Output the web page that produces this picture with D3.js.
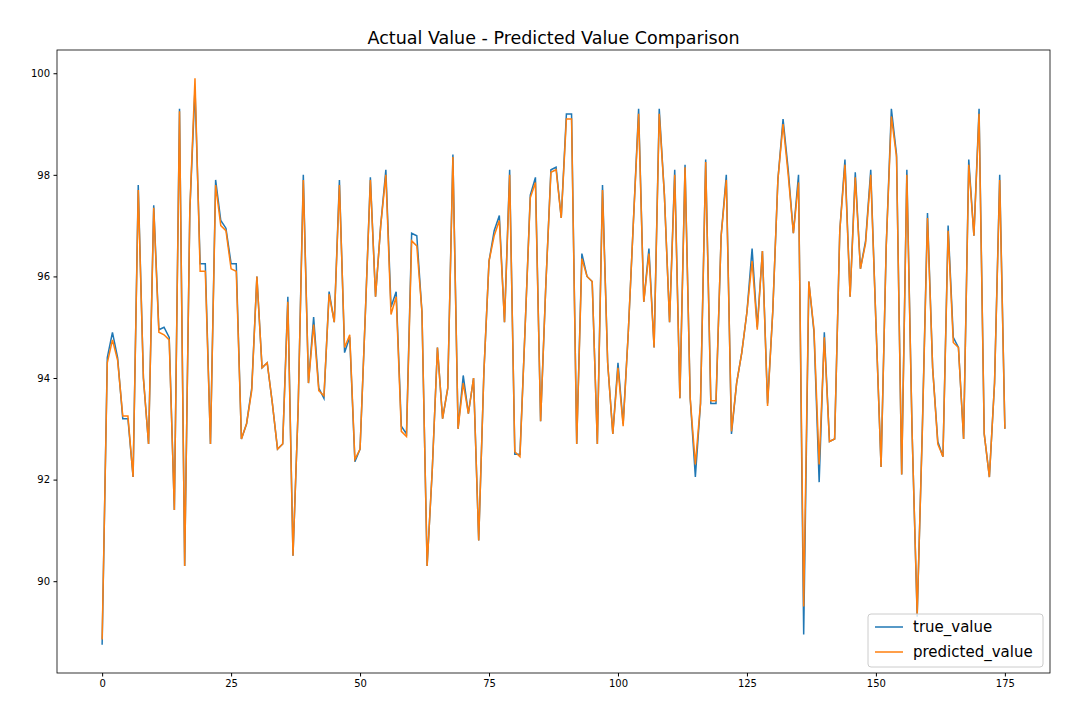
<!DOCTYPE html>
<html><head><meta charset="utf-8">
<script src="https://cdn.jsdelivr.net/npm/d3@7"></script>
<style>body{margin:0;background:#fff;font-family:"DejaVu Sans",sans-serif;}</style>
</head><body><svg id="c" width="1080" height="720"></svg>
<script>
const trueValue=[88.75,94.4,94.9,94.4,93.2,93.2,92.05,97.8,94.0,92.7,97.4,94.95,95.0,94.8,91.4,99.3,90.3,97.3,99.7,96.25,96.25,92.7,97.9,97.1,96.95,96.25,96.25,92.8,93.1,93.8,96.0,94.2,94.3,93.5,92.6,92.7,95.6,90.5,93.4,98.0,93.9,95.2,93.8,93.6,95.7,95.1,97.9,94.5,94.8,92.35,92.6,95.2,97.95,95.6,97.0,98.1,95.4,95.7,93.05,92.9,96.85,96.8,95.3,90.3,92.2,94.6,93.2,93.8,98.4,93.0,94.05,93.3,94.0,90.8,94.1,96.3,96.9,97.2,95.1,98.1,92.5,92.5,95.0,97.6,97.95,93.15,95.8,98.1,98.15,97.15,99.2,99.2,92.7,96.45,96.0,95.9,92.7,97.8,94.3,92.9,94.3,93.1,94.9,97.1,99.3,95.5,96.55,94.6,99.3,97.6,95.1,98.1,93.6,98.2,93.6,92.05,93.5,98.3,93.5,93.5,96.8,98.0,92.9,93.9,94.5,95.3,96.55,95.0,96.5,93.5,95.3,97.9,99.1,98.1,96.85,98.0,88.95,95.9,94.9,91.95,94.9,92.75,92.8,96.9,98.3,95.6,98.05,96.15,96.7,98.1,95.1,92.25,96.6,99.3,98.4,92.1,98.1,93.0,89.3,93.0,97.25,94.2,92.75,92.45,97.0,94.8,94.6,92.8,98.3,96.8,99.3,92.9,92.05,93.9,98.0,93.0];
const predictedValue=[88.85,94.3,94.75,94.35,93.25,93.25,92.05,97.7,94.0,92.7,97.35,94.9,94.85,94.75,91.4,99.25,90.3,97.3,99.9,96.1,96.1,92.7,97.8,97.0,96.9,96.15,96.1,92.8,93.1,93.75,96.0,94.2,94.3,93.5,92.6,92.7,95.5,90.5,93.4,97.9,93.9,95.05,93.75,93.65,95.65,95.1,97.8,94.6,94.85,92.4,92.6,95.2,97.9,95.6,97.0,98.0,95.25,95.6,92.95,92.85,96.7,96.6,95.3,90.3,92.2,94.6,93.2,93.8,98.35,93.0,93.9,93.3,94.0,90.8,94.1,96.3,96.8,97.1,95.1,98.0,92.55,92.45,95.0,97.55,97.85,93.15,95.8,98.05,98.1,97.15,99.1,99.1,92.7,96.35,96.0,95.9,92.7,97.7,94.3,92.9,94.2,93.05,94.9,97.1,99.2,95.5,96.45,94.6,99.2,97.6,95.1,98.0,93.6,98.15,93.6,92.3,93.5,98.25,93.55,93.55,96.8,97.9,92.95,93.9,94.5,95.3,96.3,94.95,96.5,93.45,95.3,97.9,99.0,98.0,96.85,97.85,89.5,95.9,94.95,92.3,94.8,92.75,92.8,96.9,98.2,95.6,97.95,96.15,96.65,98.0,95.1,92.25,96.6,99.15,98.35,92.1,98.0,93.0,89.35,92.95,97.15,94.2,92.7,92.45,96.9,94.7,94.6,92.8,98.2,96.8,99.2,92.9,92.05,93.9,97.9,93.0];
const xTicks=[0,25,50,75,100,125,150,175];
const yTicks=[90,92,94,96,98,100];

const svg=d3.select("#c");
const L=57,R=1050,T=50,B=673;
const n=trueValue.length;
const x=d3.scaleLinear().domain([-0.05*(n-1),(n-1)*1.05]).range([L,R]);
const all=trueValue.concat(predictedValue);
const mn=d3.min(all),mx=d3.max(all),pad=(mx-mn)*0.05;
const y=d3.scaleLinear().domain([mn-pad,mx+pad]).range([B,T]);

const line=d3.line().x((d,i)=>x(i)).y(d=>y(d));
svg.append("path").datum(trueValue).attr("d",line).attr("fill","none").attr("stroke","#1f77b4").attr("stroke-width",1.5);
svg.append("path").datum(predictedValue).attr("d",line).attr("fill","none").attr("stroke","#ff7f0e").attr("stroke-width",1.5);

const xa=svg.append("g").attr("transform",`translate(0,${B})`).call(d3.axisBottom(x).tickValues(xTicks).tickSize(3.5).tickPadding(3.5));
const ya=svg.append("g").attr("transform",`translate(${L},0)`).call(d3.axisLeft(y).tickValues(yTicks).tickSize(3.5).tickPadding(3.5));
[xa,ya].forEach(a=>{a.select(".domain").remove();a.selectAll("text").attr("font-family","DejaVu Sans").attr("font-size",10).attr("fill","#000");a.selectAll("line").attr("stroke","#000");});
svg.append("rect").attr("x",L).attr("y",T).attr("width",R-L).attr("height",B-T).attr("fill","none").attr("stroke","#000").attr("stroke-width",0.8);

svg.append("text").attr("x",(L+R)/2).attr("y",44).attr("text-anchor","middle").attr("font-size",17.5).text("Actual Value - Predicted Value Comparison");

const lg=svg.append("g").attr("transform","translate(868,614)");
lg.append("rect").attr("width",175).attr("height",53).attr("rx",3).attr("fill","#fff").attr("fill-opacity",0.8).attr("stroke","#ccc");
[["true_value","#1f77b4"],["predicted_value","#ff7f0e"]].forEach((d,i)=>{
  lg.append("line").attr("x1",7).attr("x2",35).attr("y1",13+i*25).attr("y2",13+i*25).attr("stroke",d[1]).attr("stroke-width",1.5);
  lg.append("text").attr("x",45).attr("y",18+i*25).attr("font-size",15).text(d[0]);
});
</script></body></html>
